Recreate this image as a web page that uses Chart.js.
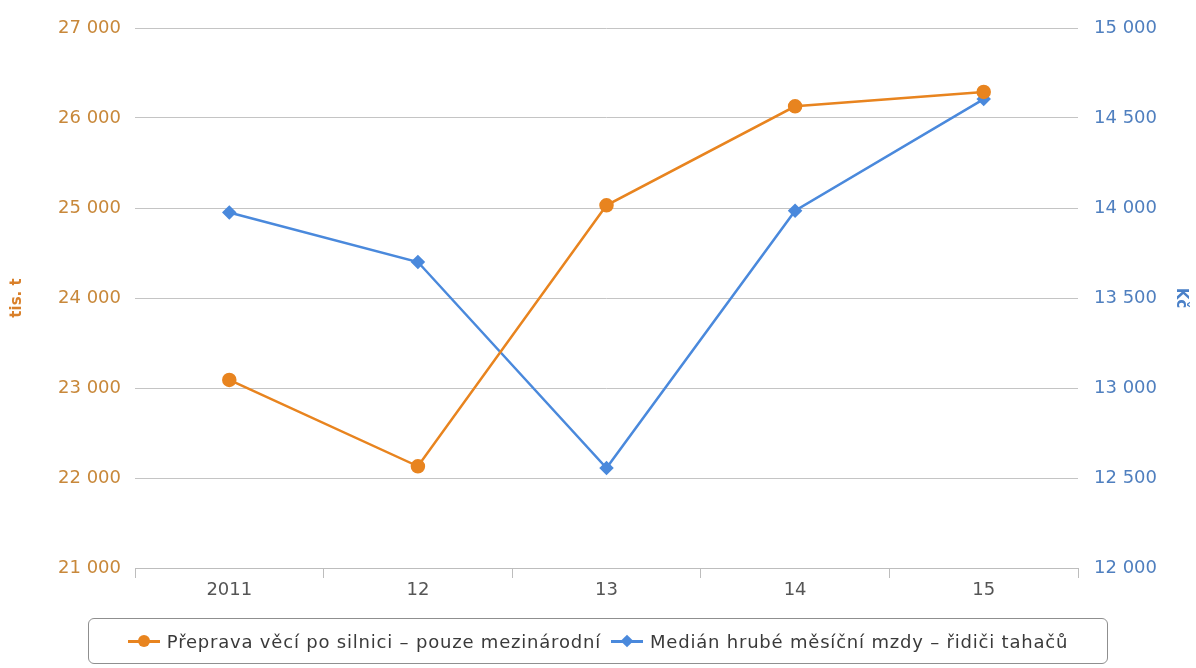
<!DOCTYPE html>
<html>
<head>
<meta charset="utf-8">
<script src="https://cdn.jsdelivr.net/npm/chart.js@4"></script>
<style>
  html, body { margin: 0; padding: 0; background: #fff; }
  #wrap { position: relative; width: 1196px; height: 668px; }
  #c { position: absolute; left: 0; top: 0; }
  #legend {
    position: absolute; left: 88px; top: 618px; width: 1020px; height: 46px;
    border: 1px solid #8f8f8f; border-radius: 6px; box-sizing: border-box;
    display: flex; align-items: center; justify-content: center;
    font-family: "DejaVu Sans", sans-serif; font-size: 18px; letter-spacing: 0.8px; color: #3a3a3a;
    white-space: nowrap;
  }
  .item { display: flex; align-items: center; margin: 0 5px; }
  .sym { position: relative; width: 32px; height: 14px; margin-right: 7px; }
  .sym .ln { position: absolute; left: 0; right: 0; top: 6px; height: 3px; }
  .sym .mk { position: absolute; left: 10px; top: 1px; width: 12px; height: 12px; }
</style>
</head>
<body>
<div id="wrap">
  <canvas id="c" width="1196" height="668"></canvas>
  <div id="legend"></div>
</div>
<script>
const categories = ["2011", "12", "13", "14", "15"];
const freightValues = [23090, 22130, 25030, 26130, 26290];
const wageValues = [13975, 13700, 12555, 13985, 14605];
const seriesNames = ["Přeprava věcí po silnici – pouze mezinárodní", "Medián hrubé měsíční mzdy – řidiči tahačů"];
const leftAxisTitle = "tis. t";
const rightAxisTitle = "Kč";

const orange = "#e8841f";
const blue = "#4a89dc";

function fmt(v) {
  return String(v).replace(/\B(?=(\d{3})+(?!\d))/g, " ");
}

// legend (HTML)
const legend = document.getElementById("legend");
[[seriesNames[0], orange, "circle"], [seriesNames[1], blue, "diamond"]].forEach(([name, col, shape]) => {
  const it = document.createElement("div");
  it.className = "item";
  const sym = document.createElement("div");
  sym.className = "sym";
  const ln = document.createElement("div"); ln.className = "ln"; ln.style.background = col;
  const mk = document.createElement("div"); mk.className = "mk"; mk.style.background = col;
  if (shape === "circle") mk.style.borderRadius = "50%";
  else { mk.style.transform = "rotate(45deg) scale(0.75)"; }
  sym.appendChild(ln); sym.appendChild(mk);
  const tx = document.createElement("span"); tx.textContent = name;
  it.appendChild(sym); it.appendChild(tx);
  legend.appendChild(it);
});

const font = { family: "DejaVu Sans", size: 18 };

new Chart(document.getElementById("c"), {
  type: "line",
  data: {
    labels: categories,
    datasets: [
      {
        label: seriesNames[0], data: freightValues, yAxisID: "y",
        borderColor: orange, backgroundColor: orange, borderWidth: 2.5,
        pointStyle: "circle", pointRadius: 6, pointHoverRadius: 6, tension: 0
      },
      {
        label: seriesNames[1], data: wageValues, yAxisID: "y1",
        borderColor: blue, backgroundColor: blue, borderWidth: 2.5,
        pointStyle: "rectRot", pointRadius: 5.5, pointHoverRadius: 5.5, tension: 0
      }
    ]
  },
  options: {
    responsive: false,
    animation: false,
    layout: { padding: { top: 28, bottom: 50, left: 0, right: 0 } },
    plugins: { legend: { display: false }, tooltip: { enabled: false } },
    scales: {
      x: {
        type: "category",
        offset: true,
        grid: { offset: true, drawOnChartArea: false, drawTicks: true, tickLength: 10, color: "#bdbdbd", lineWidth: 1 },
        border: { display: true, color: "#bdbdbd", width: 1 },
        ticks: { color: "#555", font: font, padding: 2 },
        afterFit: s => { s.height = 50; }
      },
      y: {
        position: "left",
        min: 21000, max: 27000,
        ticks: { stepSize: 1000, color: "#c8883a", font: font, padding: 14, callback: v => fmt(v) },
        grid: { color: "#c4c4c4", drawTicks: false, lineWidth: 1 },
        border: { display: false },
        title: { display: true, text: leftAxisTitle, color: "#d9802a", font: { family: "DejaVu Sans", size: 15, weight: "bold" }, padding: { top: 8, bottom: 0 } },
        afterFit: s => { s.width = 135; }
      },
      y1: {
        position: "right",
        min: 12000, max: 15000,
        ticks: { stepSize: 500, color: "#4f7fbf", font: font, padding: 16, callback: v => fmt(v) },
        grid: { drawOnChartArea: false, drawTicks: false },
        border: { display: false },
        title: { display: true, text: rightAxisTitle, color: "#4a80c8", font: { family: "DejaVu Sans", size: 15, weight: "bold" }, padding: { top: 6, bottom: 0 } },
        afterFit: s => { s.width = 118; }
      }
    }
  }
});
</script>
</body>
</html>
